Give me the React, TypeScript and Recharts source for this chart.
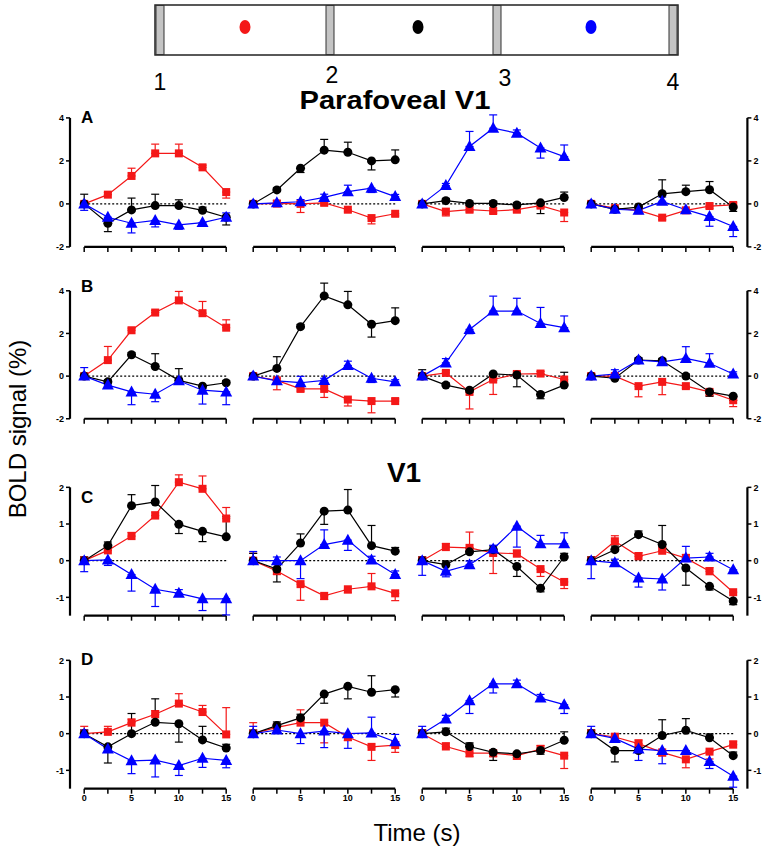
import React from 'react';
import { LineChart, Line, XAxis, YAxis, ErrorBar, ReferenceLine } from 'recharts';

// ---------- data ----------
const T = [0, 2.5, 5, 7.5, 10, 12.5, 15];
const X_LABEL_TICKS = [0, 5, 10, 15];
const Y_TICKS_AB = [-2, 0, 2, 4];
const Y_TICKS_CD = [-1, 0, 1, 2];
const COL_NUMBERS = ['1', '2', '3', '4'];
const PANEL_LETTERS = ['A', 'B', 'C', 'D'];

// each array: 4 columns x 7 time points ; errors: + = bar up, - = bar down
const redA = [
  [0, 0.43, 1.3, 2.35, 2.35, 1.7, 0.55],
  [0, 0.02, 0, 0.05, -0.27, -0.66, -0.46],
  [0, -0.36, -0.27, -0.33, -0.27, -0.08, -0.4],
  [0, -0.2, -0.3, -0.64, -0.3, -0.1, -0.05],
];
const blackA = [
  [0, -0.9, -0.28, -0.08, -0.08, -0.3, -0.62],
  [0, 0.65, 1.66, 2.5, 2.4, 2.0, 2.05],
  [0, 0.15, 0.02, 0.02, -0.05, 0.05, 0.3],
  [0, -0.25, -0.15, 0.47, 0.57, 0.66, -0.15],
];
const blueA = [
  [0, -0.62, -0.9, -0.77, -0.98, -0.87, -0.62],
  [0, 0.05, 0.1, 0.3, 0.57, 0.73, 0.34],
  [0, 0.85, 2.67, 3.52, 3.29, 2.6, 2.2],
  [0, -0.25, -0.3, 0.12, -0.27, -0.59, -1.05],
];
const redErrA = [
  [0.1, 0.1, 0.36, 0.43, 0.43, 0.1, -0.28],
  [0.1, -0.15, -0.4, -0.1, -0.1, -0.27, -0.1],
  [0.1, -0.2, -0.1, -0.1, -0.1, -0.1, -0.42],
  [0.1, -0.1, -0.1, -0.1, -0.1, -0.1, 0.1],
];
const blackErrA = [
  [0.45, -0.39, 0.55, 0.53, 0.27, 0.15, -0.36],
  [0.1, 0.1, -0.2, 0.5, 0.47, -0.42, 0.46],
  [0.1, 0.1, -0.1, 0.1, 0.1, -0.5, 0.25],
  [0.1, -0.1, 0.1, 0.65, 0.3, 0.38, -0.2],
];
const blueErrA = [
  [-0.3, -0.1, -0.45, -0.3, -0.2, -0.15, 0.2],
  [0.1, 0.1, 0.1, 0.15, 0.3, -0.2, 0.1],
  [0.1, 0.1, 0.7, 0.62, 0.15, -0.47, 0.54],
  [0.1, -0.1, -0.1, 0.2, -0.1, -0.45, -0.47],
];

const redB = [
  [0, 0.75, 2.15, 2.98, 3.55, 2.95, 2.27],
  [0, -0.2, -0.6, -0.6, -1.1, -1.17, -1.17],
  [0, 0.15, -0.74, -0.16, 0.1, 0.12, -0.16],
  [0, 0, -0.47, -0.27, -0.47, -0.74, -1.13],
];
const blackB = [
  [0, -0.27, 1.0, 0.45, -0.2, -0.47, -0.31],
  [0, 0.36, 2.32, 3.76, 3.34, 2.43, 2.6],
  [0, -0.42, -0.66, 0.1, 0.05, -0.86, -0.42],
  [0, -0.1, 0.75, 0.72, 0, -0.74, -0.94],
];
const blueB = [
  [0, -0.42, -0.74, -0.85, -0.22, -0.66, -0.74],
  [0, -0.22, -0.31, -0.2, 0.5, -0.1, -0.27],
  [0, 0.62, 2.19, 3.05, 3.05, 2.47, 2.27],
  [0, 0.1, 0.75, 0.67, 0.83, 0.6, 0.1],
];
const redErrB = [
  [0.1, 0.64, 0.1, 0.1, 0.42, 0.55, 0.37],
  [0.1, -0.44, -0.1, -0.4, -0.3, -0.55, 0.1],
  [0.1, 0.1, -0.8, -0.7, 0.1, 0.1, -0.2],
  [0.1, -0.1, -0.5, -0.6, -0.1, -0.2, -0.3],
];
const blackErrB = [
  [0.1, 0.1, 0.1, 0.6, 0.55, -0.1, 0.1],
  [0.1, 0.55, 0.1, 0.6, 0.63, -0.6, 0.6],
  [0.3, 0.1, -0.1, -0.3, -0.55, -0.2, 0.6],
  [0.1, 0.1, 0.1, 0.1, 0.1, -0.2, -0.2],
];
const blueErrB = [
  [0.4, -0.1, -0.6, -0.35, 0.1, -0.65, -0.6],
  [0.1, 0.1, 0.3, 0.1, 0.2, -0.2, 0.1],
  [0.1, 0.2, -0.2, 0.7, 0.6, 0.75, 0.55],
  [0.1, 0.2, 0.1, 0.1, 0.55, 0.45, 0.1],
];

const redC = [
  [0, 0.28, 0.67, 1.23, 2.14, 1.96, 1.15],
  [0, -0.28, -0.64, -0.96, -0.78, -0.7, -0.89],
  [0, 0.37, 0.35, 0.21, 0.19, -0.23, -0.58],
  [0, 0.53, 0.12, 0.27, 0.07, -0.29, -0.86],
];
const blackC = [
  [0, 0.41, 1.5, 1.6, 0.99, 0.8, 0.65],
  [0, -0.23, 0.48, 1.35, 1.38, 0.41, 0.26],
  [0, -0.11, 0.24, 0.3, -0.16, -0.75, 0.1],
  [0, 0.3, 0.71, 0.44, -0.2, -0.7, -1.1],
];
const blueC = [
  [0, 0.02, -0.38, -0.78, -0.89, -1.04, -1.04],
  [0, 0, 0, 0.44, 0.56, 0.02, -0.38],
  [0, -0.29, -0.11, 0.32, 0.94, 0.46, 0.46],
  [0, -0.06, -0.47, -0.5, 0.07, 0.1, -0.25],
];
const redErrC = [
  [0.1, 0.1, 0.1, 0.1, 0.2, 0.35, 0.3],
  [0.2, -0.1, -0.44, -0.1, -0.1, 0.35, -0.2],
  [0.1, 0.1, 0.43, -0.56, 0.1, -0.2, -0.18],
  [0.1, 0.15, 0.1, 0.1, 0.1, 0.1, -0.22],
];
const blackErrC = [
  [0.1, 0.1, 0.3, 0.45, -0.25, -0.28, 0.55],
  [0.2, -0.35, 0.25, -0.36, 0.56, 0.55, 0.1],
  [0.1, 0.1, 0.1, 0.1, -0.27, -0.1, 0.1],
  [0.1, 0.1, 0.1, 0.52, -0.47, -0.1, -0.1],
];
const blueErrC = [
  [-0.3, -0.15, -0.45, -0.47, 0.1, -0.32, -0.44],
  [0.25, 0.1, -0.49, 0.4, -0.28, 0.1, 0.1],
  [-0.4, -0.15, 0.1, 0.1, -0.57, 0.23, 0.3],
  [-0.49, 0.1, -0.25, -0.3, 0.32, 0.1, -0.1],
];

const redD = [
  [0, 0.05, 0.3, 0.53, 0.82, 0.59, -0.02],
  [0, 0.17, 0.3, 0.3, -0.09, -0.36, -0.31],
  [0, -0.35, -0.53, -0.53, -0.6, -0.42, -0.6],
  [0, -0.09, -0.27, -0.51, -0.7, -0.49, -0.3],
];
const blackD = [
  [0, -0.36, 0, 0.31, 0.27, -0.17, -0.39],
  [0, 0.22, 0.43, 1.08, 1.29, 1.13, 1.2],
  [0, 0.05, -0.35, -0.51, -0.55, -0.46, -0.18],
  [0, -0.46, -0.46, -0.05, 0.09, -0.11, -0.6],
];
const blueD = [
  [0, -0.42, -0.74, -0.72, -0.87, -0.67, -0.73],
  [0, 0.1, 0, 0.07, 0, 0.02, -0.22],
  [0, 0.4, 0.9, 1.36, 1.36, 0.97, 0.79],
  [0, -0.13, -0.42, -0.46, -0.46, -0.76, -1.16],
];
const redErrD = [
  [0.2, 0.15, 0.1, 0.1, 0.27, 0.18, 0.73],
  [0.3, 0.1, 0.35, -0.55, -0.1, -0.37, -0.2],
  [0.1, 0.1, -0.1, -0.1, -0.1, 0.1, -0.35],
  [0.1, 0.1, 0.1, -0.1, -0.23, -0.2, 0.1],
];
const blackErrD = [
  [0.1, -0.44, 0.55, 0.64, -0.5, 0.37, 0.1],
  [0.1, 0.1, 0.1, -0.25, -0.34, 0.45, -0.2],
  [0.1, 0.1, 0.1, -0.22, -0.1, -0.1, 0.23],
  [0.1, -0.31, 0.1, 0.43, 0.32, 0.1, 0.1],
];
const blueErrD = [
  [0.1, 0.1, -0.35, -0.46, -0.27, -0.25, -0.2],
  [0.2, 0.1, -0.27, -0.45, -0.4, 0.43, 0.2],
  [0.2, 0.1, -0.35, -0.25, 0.1, 0.1, -0.24],
  [0.2, 0.1, -0.31, -0.36, -0.1, -0.19, -0.3],
];

const ROWS = [
  { red: redA, black: blackA, blue: blueA, redErr: redErrA, blackErr: blackErrA, blueErr: blueErrA, ticks: Y_TICKS_AB },
  { red: redB, black: blackB, blue: blueB, redErr: redErrB, blackErr: blackErrB, blueErr: blueErrB, ticks: Y_TICKS_AB },
  { red: redC, black: blackC, blue: blueC, redErr: redErrC, blackErr: blackErrC, blueErr: blueErrC, ticks: Y_TICKS_CD },
  { red: redD, black: blackD, blue: blueD, redErr: redErrD, blackErr: blackErrD, blueErr: blueErrD, ticks: Y_TICKS_CD },
];

// ---------- layout ----------
const RED = '#f41818';
const BLUE = '#0000ff';
const BLACK = '#000000';
const FONT = '"Liberation Sans", Arial, sans-serif';
const COL_T0 = [84, 253, 422, 591];
const PPX = 142 / 15;
const X_DOMAIN = [-1.5, 16.5];
const ROW_Y0 = [204, 376.3, 560.3, 733.3];
const ROW_PPU = [21.5, 21.33, 36.67, 36.67];
const ROW_DOMAIN = [[-2, 4.6], [-2, 4.6], [-1.5, 2.5], [-1.5, 2.5]];

const toErr = (e: number) => (e >= 0 ? [0, e] : [-e, 0]);

const squareDot = (p: any) => (
  <rect key={`sq${p.index}`} x={p.cx - 4} y={p.cy - 4} width={8} height={8} fill={RED} />
);
const circleDot = (p: any) => (
  <circle key={`ci${p.index}`} cx={p.cx} cy={p.cy} r={4.5} fill={BLACK} />
);
const triDot = (p: any) => (
  <polygon
    key={`tr${p.index}`}
    points={`${p.cx},${p.cy - 6.5} ${p.cx - 6},${p.cy + 4.5} ${p.cx + 6},${p.cy + 4.5}`}
    fill={BLUE}
  />
);

const tickStyle = { fontSize: 9, fontWeight: 'bold', fill: '#000', fontFamily: FONT };

function Panel({ r, c }: { r: number; c: number }) {
  const row = ROWS[r];
  const data = T.map((t, i) => ({
    t,
    red: row.red[c][i],
    black: row.black[c][i],
    blue: row.blue[c][i],
    redE: toErr(row.redErr[c][i]),
    blackE: toErr(row.blackErr[c][i]),
    blueE: toErr(row.blueErr[c][i]),
  }));
  const [ymin, ymax] = ROW_DOMAIN[r];
  const ppu = ROW_PPU[r];
  const topTick = row.ticks[row.ticks.length - 1];
  const plotLeft = COL_T0[c] + X_DOMAIN[0] * PPX;
  const plotW = (X_DOMAIN[1] - X_DOMAIN[0]) * PPX;
  const plotTop = ROW_Y0[r] - ymax * ppu;
  const plotH = (ymax - ymin) * ppu;
  const LM = 30, RM = 30, TM = 4, XH = 20, BM = 24;
  const margin = { top: TM, bottom: BM - XH, left: c === 0 ? 0 : LM, right: c === 3 ? 0 : RM };
  const showY = c === 0 || c === 3;
  const xLabels = r === 3;
  return (
    <div style={{ position: 'absolute', left: plotLeft - LM, top: plotTop - TM }}>
      <LineChart width={LM + plotW + RM} height={TM + plotH + BM} data={data} margin={margin}>
        <XAxis
          dataKey="t"
          type="number"
          domain={X_DOMAIN}
          allowDataOverflow
          ticks={T}
          interval={0}
          axisLine={false}
          tickLine={{ stroke: '#000', strokeWidth: 1.5 }}
          tickSize={5}
          tickMargin={1}
          height={XH}
          tick={tickStyle}
          tickFormatter={(v: number) => (xLabels && X_LABEL_TICKS.includes(v) ? String(v) : '')}
        />
        <YAxis
          type="number"
          domain={[ymin, ymax]}
          allowDataOverflow
          hide={!showY}
          orientation={c === 3 ? 'right' : 'left'}
          width={30}
          ticks={row.ticks}
          interval={0}
          axisLine={false}
          tickLine={{ stroke: '#000', strokeWidth: 1.5 }}
          tickSize={4}
          tickMargin={2}
          tick={tickStyle}
        />
        <ReferenceLine
          segment={[{ x: 0, y: 0 }, { x: 15, y: 0 }]}
          stroke="#000"
          strokeWidth={1.2}
          strokeDasharray="2 2"
          ifOverflow="visible"
        />
        <ReferenceLine
          segment={[{ x: 0, y: ymin }, { x: 15, y: ymin }]}
          stroke="#000"
          strokeWidth={2.2}
          ifOverflow="visible"
        />
        {c === 0 && (
          <ReferenceLine
            segment={[{ x: X_DOMAIN[0], y: ymin }, { x: X_DOMAIN[0], y: topTick }]}
            stroke="#000"
            strokeWidth={2.2}
            ifOverflow="visible"
          />
        )}
        {c === 3 && (
          <ReferenceLine
            segment={[{ x: X_DOMAIN[1], y: ymin }, { x: X_DOMAIN[1], y: topTick }]}
            stroke="#000"
            strokeWidth={2.2}
            ifOverflow="visible"
          />
        )}
        <Line type="linear" dataKey="red" stroke={RED} strokeWidth={1.2} dot={squareDot} activeDot={false} isAnimationActive={false}>
          <ErrorBar dataKey="redE" width={4} strokeWidth={1.2} stroke={RED} direction="y" />
        </Line>
        <Line type="linear" dataKey="black" stroke={BLACK} strokeWidth={1.2} dot={circleDot} activeDot={false} isAnimationActive={false}>
          <ErrorBar dataKey="blackE" width={4} strokeWidth={1.2} stroke={BLACK} direction="y" />
        </Line>
        <Line type="linear" dataKey="blue" stroke={BLUE} strokeWidth={1.2} dot={triDot} activeDot={false} isAnimationActive={false}>
          <ErrorBar dataKey="blueE" width={4} strokeWidth={1.2} stroke={BLUE} direction="y" />
        </Line>
      </LineChart>
    </div>
  );
}

const NUM_X = [160, 332, 505, 673];
const NUM_Y = [90, 83, 86, 90];
const BAR_X = [156, 326, 493, 669];
const DOT_X = [245, 418, 591];
const DOT_COLORS = [RED, BLACK, BLUE];
const LETTER_Y = [123, 292, 503, 665];

function Overlay() {
  return (
    <svg width={765} height={852} style={{ position: 'absolute', left: 0, top: 0 }}>
      <rect x={155} y={5} width={523} height={50} fill="#fff" stroke="#222" strokeWidth={1.5} />
      {BAR_X.map((x, i) => (
        <rect key={`bar${i}`} x={x} y={5.5} width={8} height={49} fill="#c4c4c4" stroke="#333" strokeWidth={1} />
      ))}
      {DOT_X.map((x, i) => (
        <ellipse key={`dot${i}`} cx={x} cy={27} rx={5.5} ry={7} fill={DOT_COLORS[i]} />
      ))}
      {COL_NUMBERS.map((n, i) => (
        <text key={`num${i}`} x={NUM_X[i]} y={NUM_Y[i]} textAnchor="middle" fontSize={23} fontFamily={FONT} fill="#000">
          {n}
        </text>
      ))}
      <text x={395} y={109} textAnchor="middle" fontSize={25} fontWeight="bold" fontFamily={FONT} fill="#000" textLength={191} lengthAdjust="spacingAndGlyphs">
        Parafoveal V1
      </text>
      <text x={404} y={482} textAnchor="middle" fontSize={28} fontWeight="bold" fontFamily={FONT} fill="#000">
        V1
      </text>
      {PANEL_LETTERS.map((l, i) => (
        <text key={`let${i}`} x={81} y={LETTER_Y[i]} fontSize={17} fontWeight="bold" fontFamily={FONT} fill="#000">
          {l}
        </text>
      ))}
      <text x={26} y={429} transform="rotate(-90 26 429)" textAnchor="middle" fontSize={24} fontFamily={FONT} fill="#000">
        BOLD signal (%)
      </text>
      <text x={417} y={841} textAnchor="middle" fontSize={24} fontFamily={FONT} fill="#000">
        Time (s)
      </text>
    </svg>
  );
}

export default function App() {
  const panels = [];
  for (let r = 0; r < 4; r++) {
    for (let c = 0; c < 4; c++) {
      panels.push(<Panel key={`p${r}${c}`} r={r} c={c} />);
    }
  }
  return (
    <div style={{ position: 'absolute', left: 0, top: 0, width: 765, height: 852, background: '#fff', overflow: 'hidden' }}>
      <Overlay />
      {panels}
    </div>
  );
}
